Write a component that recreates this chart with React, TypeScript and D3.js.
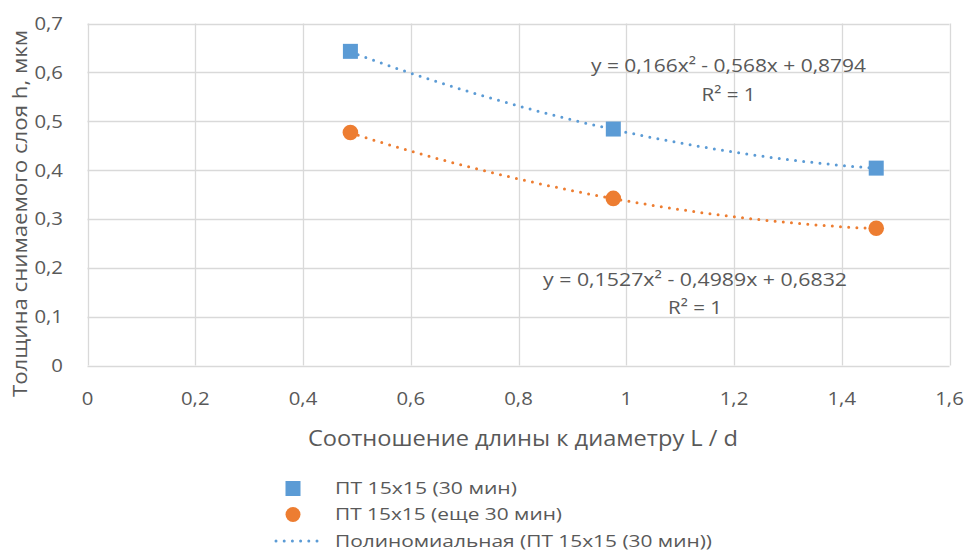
import { useEffect, useRef } from "react";
import * as d3 from "d3";

// L/d ratio and removed layer thickness
const ratioLd = [0.488, 0.976, 1.464];
const thickness30 = [0.643, 0.484, 0.404];
const thicknessMore30 = [0.477, 0.342, 0.281];

// polynomial trendline coefficients as printed on the chart (a, b, c)
const fit30 = [0.166, -0.568, 0.8794];
const fitMore30 = [0.1527, -0.4989, 0.6832];

const xTicks = [0, 0.2, 0.4, 0.6, 0.8, 1, 1.2, 1.4, 1.6];
const yTicks = [0, 0.1, 0.2, 0.3, 0.4, 0.5, 0.6, 0.7];

const legendLabels = [
  "ПТ 15x15 (30 мин)",
  "ПТ 15x15 (еще 30 мин)",
  "Полиномиальная (ПТ 15x15 (30 мин))",
];

const BLUE = "#5b9bd5";
const ORANGE = "#ed7d31";
const TEXT = "#595959";
const FONT = "'Open Sans', 'Noto Sans', sans-serif";

const fmt = (v: number) => String(+v.toFixed(2)).replace(".", ",");

export default function App() {
  const svgRef = useRef<SVGSVGElement | null>(null);

  useEffect(() => {
    if (!svgRef.current) return;
    const svg = d3.select(svgRef.current);
    svg.selectAll("*").remove();

    const width = 966;
    const height = 552;
    const left = 87.5;
    const right = 949.5;
    const top = 23.5;
    const bottom = 365.5;

    const x = d3.scaleLinear().domain([0, 1.6]).range([left, right]);
    const y = d3.scaleLinear().domain([0, 0.7]).range([bottom, top]);

    svg.attr("width", width).attr("height", height).attr("font-family", FONT);

    const grid = svg.append("g").attr("stroke", "#d9d9d9").attr("stroke-width", 1.3);
    grid
      .selectAll("line.v")
      .data(xTicks)
      .join("line")
      .attr("x1", (d) => Math.round(x(d)) + 0.5)
      .attr("x2", (d) => Math.round(x(d)) + 0.5)
      .attr("y1", top)
      .attr("y2", bottom);
    grid
      .selectAll("line.h")
      .data(yTicks)
      .join("line")
      .attr("x1", left)
      .attr("x2", right)
      .attr("y1", (d) => Math.round(y(d)) + 0.5)
      .attr("y2", (d) => Math.round(y(d)) + 0.5);

    // tick labels, a bit wider than Open Sans draws them
    svg
      .append("g")
      .selectAll("text")
      .data(yTicks)
      .join("text")
      .attr("transform", (d) => `translate(63, ${y(d)}) scale(1.1, 1)`)
      .attr("dy", "0.35em")
      .attr("text-anchor", "end")
      .attr("font-size", 18.5)
      .attr("fill", TEXT)
      .text(fmt);
    svg
      .append("g")
      .selectAll("text")
      .data(xTicks)
      .join("text")
      .attr("transform", (d) => `translate(${x(d)}, 405) scale(1.1, 1)`)
      .attr("text-anchor", "middle")
      .attr("font-size", 18.5)
      .attr("fill", TEXT)
      .text(fmt);

    // axis titles
    svg
      .append("text")
      .attr("x", 523)
      .attr("y", 445.5)
      .attr("text-anchor", "middle")
      .attr("font-size", 21)
      .attr("textLength", 430)
      .attr("lengthAdjust", "spacingAndGlyphs")
      .attr("fill", TEXT)
      .text("Соотношение длины к диаметру L / d");
    svg
      .append("text")
      .attr("transform", "translate(27, 213.5) rotate(-90)")
      .attr("text-anchor", "middle")
      .attr("font-size", 20)
      .attr("textLength", 367)
      .attr("lengthAdjust", "spacingAndGlyphs")
      .attr("fill", TEXT)
      .text("Толщина снимаемого слоя h, мкм");

    // trendlines
    const poly = (c: number[]) => (v: number) => c[0] * v * v + c[1] * v + c[2];
    const xs = d3.range(ratioLd[0], ratioLd[ratioLd.length - 1] + 0.001, 0.01);
    [
      { coef: fit30, color: BLUE },
      { coef: fitMore30, color: ORANGE },
    ].forEach(({ coef, color }) => {
      const f = poly(coef);
      const line = d3
        .line<number>()
        .x((d) => x(d))
        .y((d) => y(f(d)));
      svg
        .append("path")
        .attr("d", line(xs))
        .attr("fill", "none")
        .attr("stroke", color)
        .attr("stroke-width", 3)
        .attr("stroke-linecap", "round")
        .attr("stroke-dasharray", "0 8.2");
    });

    // markers
    svg
      .append("g")
      .selectAll("rect")
      .data(ratioLd)
      .join("rect")
      .attr("x", (d) => x(d) - 7.5)
      .attr("y", (_, i) => y(thickness30[i]) - 7.5)
      .attr("width", 15)
      .attr("height", 15)
      .attr("fill", BLUE);
    svg
      .append("g")
      .selectAll("circle")
      .data(ratioLd)
      .join("circle")
      .attr("cx", (d) => x(d))
      .attr("cy", (_, i) => y(thicknessMore30[i]))
      .attr("r", 7.8)
      .attr("fill", ORANGE);

    // trendline equations
    const eq = (cx: number, by: number, gap: number, w: number, coef: number[]) => {
      const g = svg
        .append("g")
        .attr("font-size", 19)
        .attr("fill", TEXT)
        .attr("text-anchor", "middle");
      const n = (v: number) => String(Math.abs(v)).replace(".", ",");
      g.append("text")
        .attr("x", cx)
        .attr("y", by)
        .attr("textLength", w)
        .attr("lengthAdjust", "spacingAndGlyphs")
        .text(`y = ${n(coef[0])}x² - ${n(coef[1])}x + ${n(coef[2])}`);
      g.append("text")
        .attr("x", cx)
        .attr("y", by + gap)
        .attr("textLength", 54)
        .attr("lengthAdjust", "spacingAndGlyphs")
        .text("R² = 1");
    };
    eq(728.5, 72, 29, 275, fit30);
    eq(695, 286, 27.5, 304, fitMore30);

    // legend
    const lg = svg.append("g").attr("font-size", 17).attr("fill", TEXT);
    const rowY = [488.5, 514.5, 541];
    const rowW = [182, 227, 377];
    lg.append("rect")
      .attr("x", 285.5)
      .attr("y", rowY[0] - 7.5)
      .attr("width", 15)
      .attr("height", 15)
      .attr("fill", BLUE);
    lg.append("circle").attr("cx", 293).attr("cy", rowY[1]).attr("r", 7.5).attr("fill", ORANGE);
    lg.append("line")
      .attr("x1", 276)
      .attr("x2", 321)
      .attr("y1", rowY[2])
      .attr("y2", rowY[2])
      .attr("stroke", BLUE)
      .attr("stroke-width", 3)
      .attr("stroke-linecap", "round")
      .attr("stroke-dasharray", "0 8.2");
    lg.selectAll("text.item")
      .data(legendLabels)
      .join("text")
      .attr("x", 335)
      .attr("y", (_, i) => rowY[i])
      .attr("dy", "0.33em")
      .attr("textLength", (_, i) => rowW[i])
      .attr("lengthAdjust", "spacingAndGlyphs")
      .text((d) => d);
  }, []);

  return (
    <svg
      ref={svgRef}
      style={{ position: "absolute", left: 0, top: 0, display: "block", background: "#fff" }}
    />
  );
}
